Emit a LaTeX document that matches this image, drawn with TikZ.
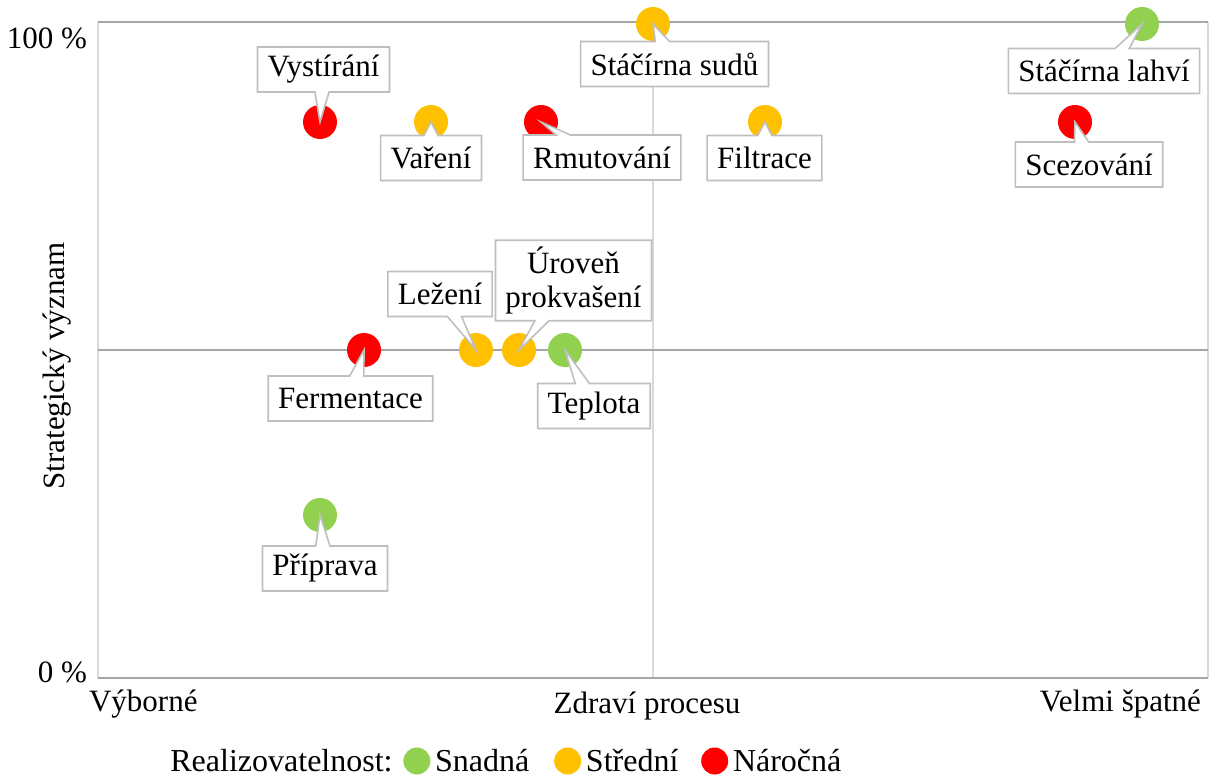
\documentclass[tikz,border=0pt]{standalone}
\usepackage{fontspec}
\setmainfont{Liberation Serif}
\usetikzlibrary{positioning, shapes.callouts}

\definecolor{snadna}{HTML}{92D050}
\definecolor{stredni}{HTML}{FFC000}
\definecolor{narocna}{HTML}{FF0000}
\definecolor{osa}{HTML}{A6A6A6}
\definecolor{mrizka}{HTML}{D9D9D9}
\definecolor{ramecek}{HTML}{BFBFBF}

\tikzset{
  bod/.style={circle, minimum size=17pt, inner sep=0pt},
  popis/.style={rectangle callout, draw=ramecek, line width=0.8pt, fill=white,
    inner xsep=5pt, minimum height=22.5pt, align=center},
  legbod/.style={circle, minimum size=13.5pt, inner sep=0pt},
  legtext/.style={inner sep=0pt, font=\fontsize{16}{18}\selectfont}
}

\begin{document}
\begin{tikzpicture}[x=0.5pt, y=-0.5pt, font=\fontsize{15.5}{17}\selectfont]
\useasboundingbox (0,0) rectangle (1209,780);

% ramecek grafu a osy
\draw[mrizka, line width=0.8pt] (98,22) -- (98,678);
\draw[mrizka, line width=0.8pt] (1208,22) -- (1208,678);
\draw[mrizka, line width=0.8pt] (653,22) -- (653,678);
\draw[osa, line width=0.8pt] (98,22) -- (1208,22);
\draw[osa, line width=0.8pt] (98,350) -- (1208,350);
\draw[osa, line width=0.8pt] (98,678) -- (1208,678);

\node[anchor=east] (sto) at (94,38) {100 \%};
\node[anchor=east] (nula) at (94,672) {0 \%};
\node[anchor=west] (vyb) at (82,704) {Výborné};
\node (zdravi) at (647,706) {Zdraví procesu};
\node[anchor=east] (spat) at (1208,704) {Velmi špatné};
\node[rotate=90] (strat) at (57,366) {Strategický význam};

% body
\foreach \jm/\x/\y/\barva in {vyst/320/122/narocna, varen/431/122/stredni,
    rmut/541/122/narocna, sudy/653/24/stredni, filt/765/122/stredni,
    lahve/1142/24/snadna, scez/1075/122/narocna, lez/476/350/stredni,
    prok/519/350/stredni, tepl/565/350/snadna, ferm/364/350/narocna,
    prip/320/515/snadna}
  \node[bod, fill=\barva] (\jm) at (\x,\y) {};

% popisky
\node[popis, callout absolute pointer={(vyst.center)}] (vystL) at (323.5,69.5) {Vystírání};
\node[popis, callout absolute pointer={(varen.center)}] (varenL) at (431,158) {Vaření};
\node[popis, callout absolute pointer={(rmut.center)}] (rmutL) at (602,157.5) {Rmutování};
\node[popis, callout absolute pointer={(sudy.center)}] (sudyL) at (674.5,64) {Stáčírna sudů};
\node[popis, callout absolute pointer={(filt.center)}] (filtL) at (764.5,158) {Filtrace};
\node[popis, callout absolute pointer={(lahve.center)}] (lahveL) at (1104,71) {Stáčírna lahví};
\node[popis, callout absolute pointer={(scez.center)}] (scezL) at (1089,164.5) {Scezování};
\node[popis, callout absolute pointer={(lez.center)}] (lezL) at (440,294) {Ležení};
\node[popis, callout absolute pointer={(prok.center)}] (prokL) at (573.5,280.5) {Úroveň\\prokvašení};
\node[popis, callout absolute pointer={(tepl.center)}] (teplL) at (594,406) {Teplota};
\node[popis, callout absolute pointer={(ferm.center)}] (fermL) at (350.5,398.5) {Fermentace};
\node[popis, callout absolute pointer={(prip.center)}] (pripL) at (325,568.5) {Příprava};

% legenda
\node[legtext, anchor=west] (leg) at (170,761) {Realizovatelnost:};
\node[legbod, fill=snadna, right=5pt of leg] (lg1) {};
\node[legtext, right=2pt of lg1] (lt1) {Snadná};
\node[legbod, fill=stredni, right=12pt of lt1] (lg2) {};
\node[legtext, right=2pt of lg2] (lt2) {Střední};
\node[legbod, fill=narocna, right=11pt of lt2] (lg3) {};
\node[legtext, right=2pt of lg3] (lt3) {Náročná};
\end{tikzpicture}
\end{document}
